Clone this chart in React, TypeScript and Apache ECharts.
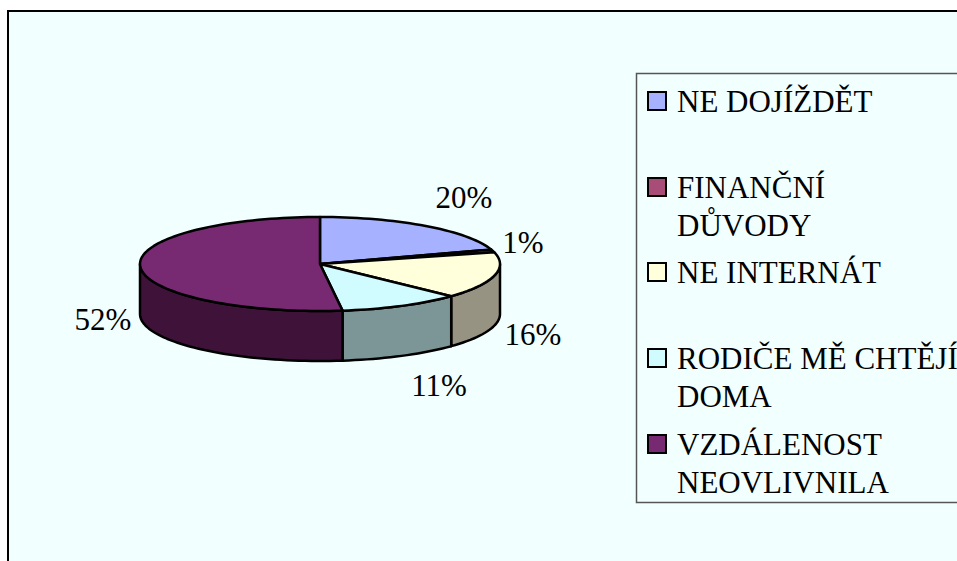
import React, { useEffect, useRef } from "react";
import * as echarts from "echarts";

const categories = ["NE DOJÍŽDĚT", "FINANČNÍ\nDŮVODY", "NE INTERNÁT", "RODIČE MĚ CHTĚJÍ\nDOMA", "VZDÁLENOST\nNEOVLIVNILA"];
const shareValues = [20, 1, 16, 11, 52];
const topColors = ["#A6B2FF", "#A84C78", "#FFFFDC", "#D0FBFF", "#772A72"];
const sideColors = ["#636A99", "#652D48", "#979382", "#7C9596", "#3F1339"];

const FONT = '31px "Liberation Serif", "Times New Roman", serif';
const PIE = { cx: 320, cy: 264, rx: 180, ry: 47, depth: 50 };
// anchor of each percentage label (text centre)
const labelX = [464, 523, 533, 439, 103];
const labelY = [197, 242, 334, 385, 319];
// y of the swatch top for each legend entry
const legendTop = [92, 178, 263, 349, 435];

const pt = (deg: number, dy = 0): number[] => {
  const r = (deg * Math.PI) / 180;
  return [PIE.cx + PIE.rx * Math.sin(r), PIE.cy - PIE.ry * Math.cos(r) + dy];
};
const arc = (a: number, b: number, dy = 0): number[][] => {
  const out: number[][] = [];
  const n = Math.max(2, Math.ceil((b - a) / 2));
  for (let i = 0; i <= n; i++) out.push(pt(a + ((b - a) * i) / n, dy));
  return out;
};

export default function App() {
  const ref = useRef<HTMLDivElement>(null);
  useEffect(() => {
    document.body.style.margin = "0";
    const chart = echarts.init(ref.current!, undefined, { renderer: "svg" });
    const total = shareValues.reduce((a, b) => a + b, 0);
    const legendGraphics: any[] = [];
    categories.forEach((c, i) => {
      legendGraphics.push({
        type: "rect",
        z: 20,
        shape: { x: 648, y: legendTop[i], width: 18, height: 18 },
        style: { fill: topColors[i], stroke: "#000", lineWidth: 2 },
      });
      c.split("\n").forEach((line, j) => {
        legendGraphics.push({
          type: "text",
          z: 20,
          x: 677,
          y: legendTop[i] + 9 + j * 38,
          style: { text: line, font: FONT, fill: "#000", verticalAlign: "middle", textAlign: "left" },
        });
      });
    });
    chart.setOption({
      animation: false,
      backgroundColor: "#fff",
      graphic: [
        {
          type: "rect",
          z: 1,
          shape: { x: 8, y: 11, width: 1000, height: 600 },
          style: { fill: "#F2FFFF", stroke: "#000", lineWidth: 2 },
        },
        {
          type: "rect",
          z: 2,
          shape: { x: 636.5, y: 73.5, width: 400, height: 429 },
          style: { fill: "#F2FFFF", stroke: "#555", lineWidth: 1.5 },
        },
        ...legendGraphics,
      ],
      series: [
        {
          type: "custom",
          coordinateSystem: "none",
          z: 10,
          clip: false,
          data: shareValues.map((v, i) => ({ value: v, name: categories[i] })),
          renderItem: (params: any, api: any) => {
            const i = params.dataIndex;
            const before = shareValues.slice(0, i).reduce((a, b) => a + b, 0);
            const a0 = (before / total) * 360;
            const a1 = ((before + api.value(0)) / total) * 360;
            const children: any[] = [];
            const s0 = Math.max(a0, 90);
            const s1 = Math.min(a1, 270);
            if (s1 > s0) {
              const up = arc(s0, s1);
              const down = arc(s0, s1, PIE.depth).reverse();
              children.push({
                type: "polygon",
                shape: { points: [...up, ...down] },
                style: { fill: sideColors[i], stroke: "#000", lineWidth: 2.5, lineJoin: "round" },
              });
            }
            children.push({
              type: "polygon",
              shape: { points: [[PIE.cx, PIE.cy], ...arc(a0, a1)] },
              style: { fill: topColors[i], stroke: "#000", lineWidth: 2.5, lineJoin: "round" },
            });
            children.push({
              type: "text",
              x: labelX[i],
              y: labelY[i],
              style: {
                text: `${api.value(0)}%`,
                font: FONT,
                fill: "#000",
                textAlign: "center",
                verticalAlign: "middle",
              },
            });
            return { type: "group", children };
          },
        },
      ],
    });
    return () => chart.dispose();
  }, []);
  return <div ref={ref} style={{ width: 957, height: 561 }} />;
}
